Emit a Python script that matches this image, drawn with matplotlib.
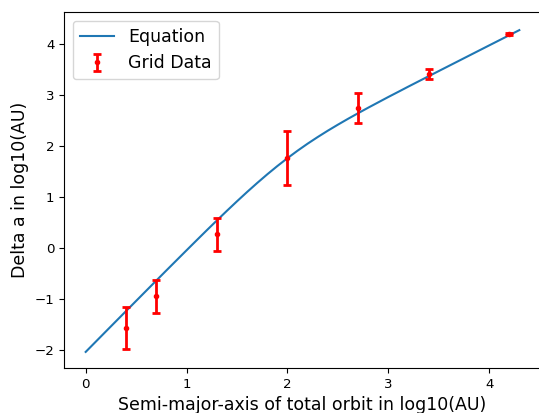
import matplotlib
matplotlib.use('Agg')
import matplotlib.pyplot as plt

# grid data (log10 AU)
grid_x = [0.4, 0.7, 1.3, 2.0, 2.7, 3.4, 4.2]
grid_y = [-1.56, -0.95, 0.27, 1.76, 2.74, 3.40, 4.18]
grid_err = [0.41, 0.33, 0.32, 0.53, 0.30, 0.10, 0.02]

# equation curve
eq_x = [0.0, 0.2, 0.4, 0.6, 0.8, 1.0, 1.1, 1.2, 1.3, 1.4, 1.5, 1.6,
        1.7, 1.8, 1.9, 2.0, 2.1, 2.2, 2.3, 2.4, 2.5, 2.6, 2.7, 2.8,
        2.9, 3.0, 3.1, 3.2, 3.4, 3.6, 3.8, 4.0, 4.2, 4.3]
eq_y = [-2.035, -1.635, -1.236, -0.838, -0.440, -0.046, 0.150, 0.345,
        0.537, 0.727, 0.913, 1.095, 1.271, 1.441, 1.603, 1.757, 1.903,
        2.041, 2.171, 2.295, 2.413, 2.527, 2.637, 2.745, 2.850, 2.955,
        3.057, 3.160, 3.362, 3.563, 3.764, 3.965, 4.165, 4.265]

fig = plt.figure(figsize=(5.39, 4.13), dpi=100)
ax = fig.add_axes([64 / 539, 45 / 413, 477 / 539, 356 / 413])

ax.plot(eq_x, eq_y, color='#1f77b4', lw=1.5, label='Equation')
ax.errorbar(grid_x, grid_y, yerr=grid_err, fmt='.', color='red',
            ms=6, elinewidth=2, capsize=3, capthick=2, label='Grid Data')

ax.set_xlim(-0.215, 4.515)
ax.set_ylim(-2.35, 4.62)
ax.tick_params(labelsize=9.6)

ax.set_xlabel('Semi-major-axis of total orbit in log10(AU)', fontsize=12.5)
ax.set_ylabel('Delta a in log10(AU)', fontsize=12.5)
ax.legend(loc='upper left', fontsize=12.5)

plt.savefig('out.png', dpi=100)
